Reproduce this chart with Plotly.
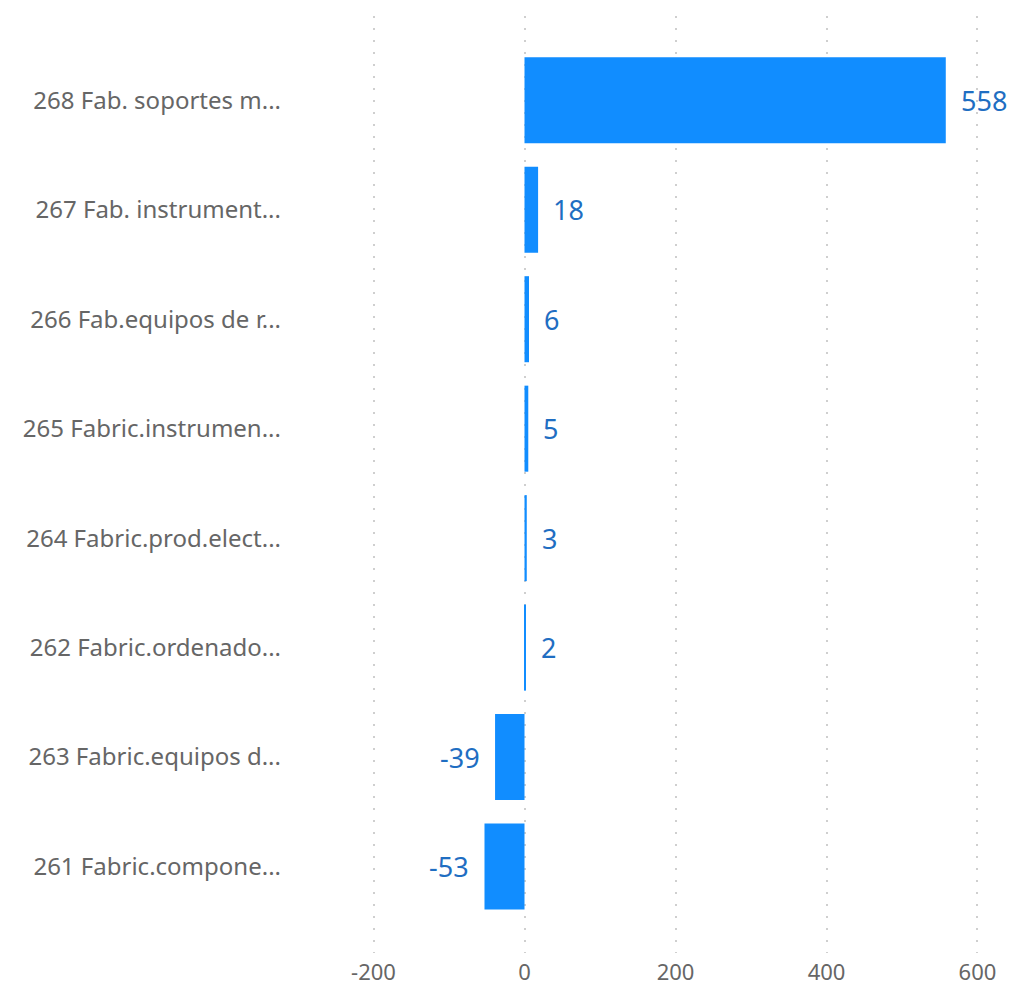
import plotly.graph_objects as go

categories = [
    "268 Fab. soportes m...",
    "267 Fab. instrument...",
    "266 Fab.equipos de r...",
    "265 Fabric.instrumen...",
    "264 Fabric.prod.elect...",
    "262 Fabric.ordenado...",
    "263 Fabric.equipos d...",
    "261 Fabric.compone...",
]
values = [558, 18, 6, 5, 3, 2, -39, -53]
x_ticks = [-200, 0, 200, 400, 600]

bar_color = "#118DFF"
label_color = "#1F6EC2"
font_family = "Segoe UI, Noto Sans, Open Sans, sans-serif"

fig = go.Figure(
    go.Bar(
        x=values,
        y=categories,
        orientation="h",
        marker=dict(color=bar_color, line=dict(width=0)),
        hoverinfo="skip",
    )
)

for v, c in zip(values, categories):
    fig.add_annotation(
        x=v, y=c, text=str(v), showarrow=False,
        xanchor="left" if v >= 0 else "right",
        xshift=13 if v >= 0 else -13,
        font=dict(family=font_family, size=27, color=label_color),
    )

fig.update_layout(
    width=1010, height=987,
    margin=dict(l=372, r=31, t=16, b=34),
    paper_bgcolor="white", plot_bgcolor="white",
    bargap=0.214,
    showlegend=False,
    font=dict(family=font_family, color="#666666"),
)
fig.update_xaxes(
    range=[-202, 602],
    tickvals=x_ticks,
    ticktext=[str(t) for t in x_ticks],
    showgrid=True, gridcolor="#cfcfcf", gridwidth=2, griddash="2px,10px",
    zeroline=False, showline=False,
    automargin=False,
    ticklabelstandoff=4,
    tickfont=dict(size=22, color="#666666", family=font_family),
)
fig.update_yaxes(
    categoryorder="array", categoryarray=categories,
    range=[7.79, -0.77],
    showgrid=False, zeroline=False, showline=False,
    automargin=False,
    ticklabelstandoff=90,
    tickfont=dict(size=24, color="#666666", family=font_family),
)

fig.write_html("out.html")
